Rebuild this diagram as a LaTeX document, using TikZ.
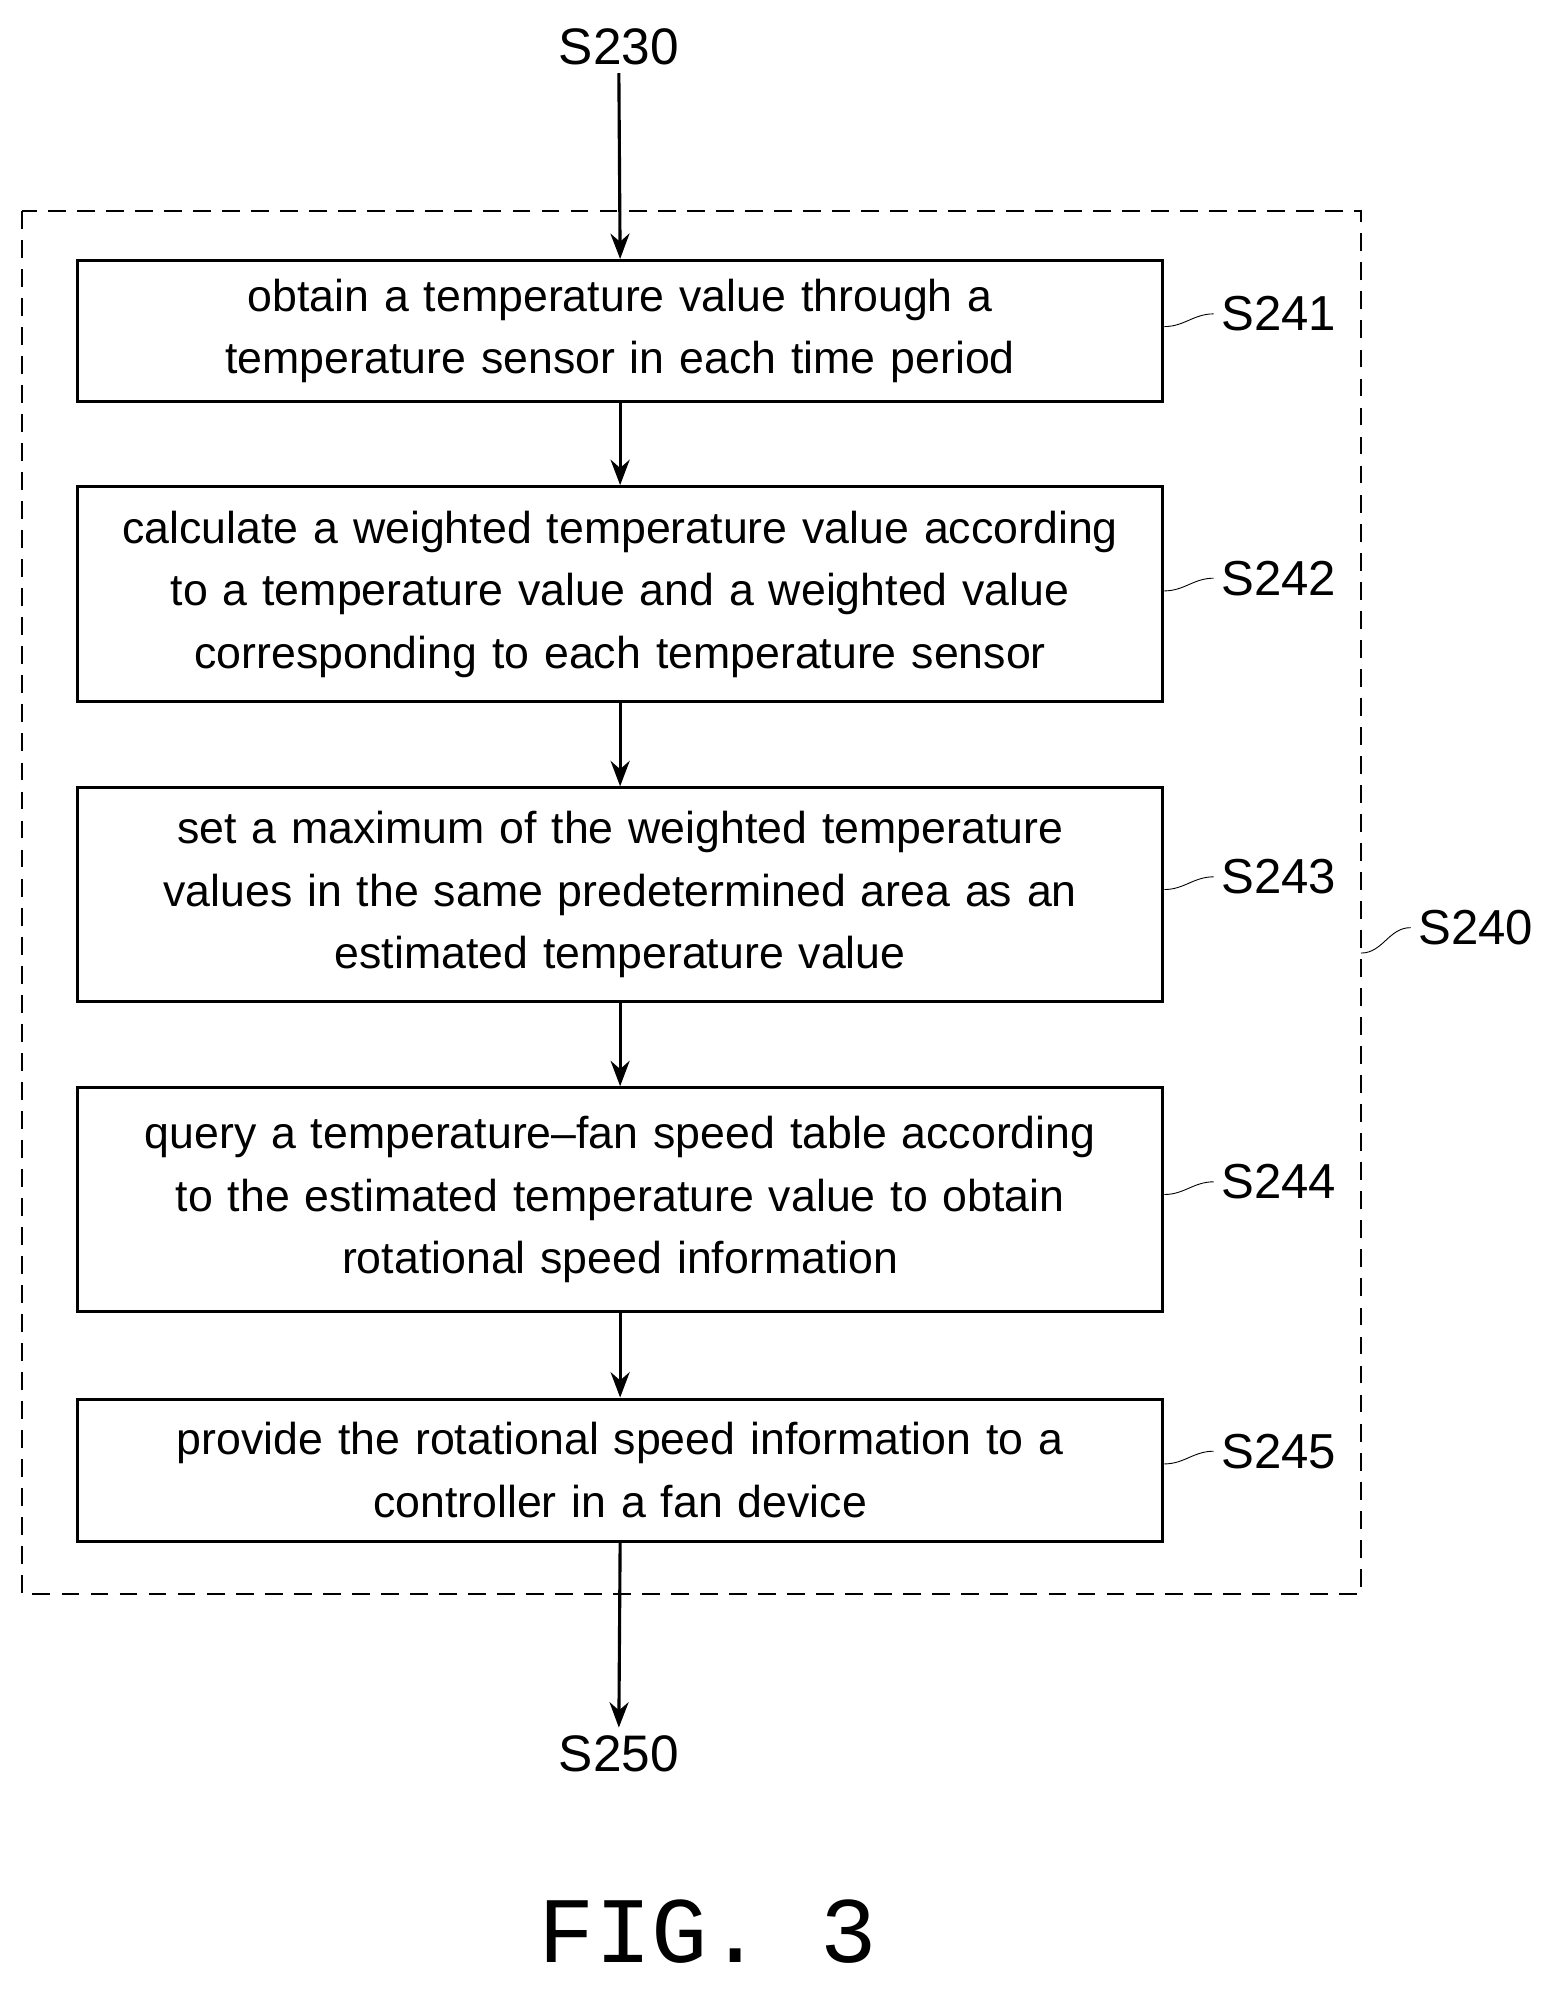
\documentclass[tikz,border=0pt]{standalone}
\usepackage{fontspec}
\setmainfont{Liberation Sans}
\setmonofont{Liberation Mono}
\usetikzlibrary{positioning,calc,arrows.meta}
\begin{document}
\begin{tikzpicture}[
    stepbox/.style={rectangle, line width=1.4pt, draw=black, minimum width=17.08cm, minimum height=#1,
        text width=16.6cm, align=center, font=\fontsize{20}{28}\selectfont},
    steplab/.style={anchor=west, font=\fontsize{22}{28}\selectfont},
    flow/.style={-{Stealth[length=4mm,width=3mm]}, line width=1.4pt},
    squig/.style={thin},
    ]
    \useasboundingbox (0,0) rectangle (24.4,-31.32);

    %% start and end
    \node[font=\fontsize{23}{28}\selectfont] (s230) at (9.74,-0.74) {S230};
    \node[font=\fontsize{23}{28}\selectfont] (s250) at (9.74,-27.6) {S250};

    %% steps
    \node[stepbox=2.22cm] (b1) at (9.76,-5.21) {obtain a temperature value through a\\ temperature sensor in each time period};
    \node[stepbox=3.38cm] (b2) at (9.76,-9.35) {calculate a weighted temperature value according\\ to a temperature value and a weighted value\\ corresponding to each temperature sensor};
    \node[stepbox=3.36cm] (b3) at (9.76,-14.08) {set a maximum of the weighted temperature\\ values in the same predetermined area as an\\ estimated temperature value};
    \node[stepbox=3.52cm] (b4) at (9.76,-18.88) {query a temperature--fan speed table according\\ to the estimated temperature value to obtain\\ rotational speed information};
    \node[stepbox=2.24cm] (b5) at (9.76,-23.14) {provide the rotational speed information to a\\ controller in a fan device};

    %% dashed frame
    \draw[dash pattern=on 8pt off 5pt, line width=0.9pt] (0.34,-3.32) rectangle (21.42,-25.08);
    \coordinate (frame) at (21.42,-14.8);

    %% arrows
    \draw[flow] (s230.south) to (b1.north);
    \draw[flow] (b1.south) to (b2.north);
    \draw[flow] (b2.south) to (b3.north);
    \draw[flow] (b3.south) to (b4.north);
    \draw[flow] (b4.south) to (b5.north);
    \draw[flow] (b5.south) to (s250.north);

    %% step labels
    \node[steplab] (l1) at (19.1,-4.94) {S241};
    \node[steplab] (l2) at (19.1,-9.1) {S242};
    \node[steplab] (l3) at (19.1,-13.8) {S243};
    \node[steplab] (l4) at (19.1,-18.6) {S244};
    \node[steplab] (l5) at (19.1,-22.84) {S245};
    \node[steplab] (l0) at (22.2,-14.6) {S240};
    \foreach \b/\l in {b1/l1, b2/l2, b3/l3, b4/l4, b5/l5}
        \draw[squig] ($(\b.east|-\l.west)+(0,-0.2)$) to[out=0,in=180] (\l.west);
    \draw[squig] ($(frame)+(0,-0.2)$) to[out=0,in=180] (l0.west);

    %% caption
    \node[font=\ttfamily\fontsize{42}{48}\selectfont] (fig) at (11.14,-30.4) {FIG. 3};
\end{tikzpicture}
\end{document}
